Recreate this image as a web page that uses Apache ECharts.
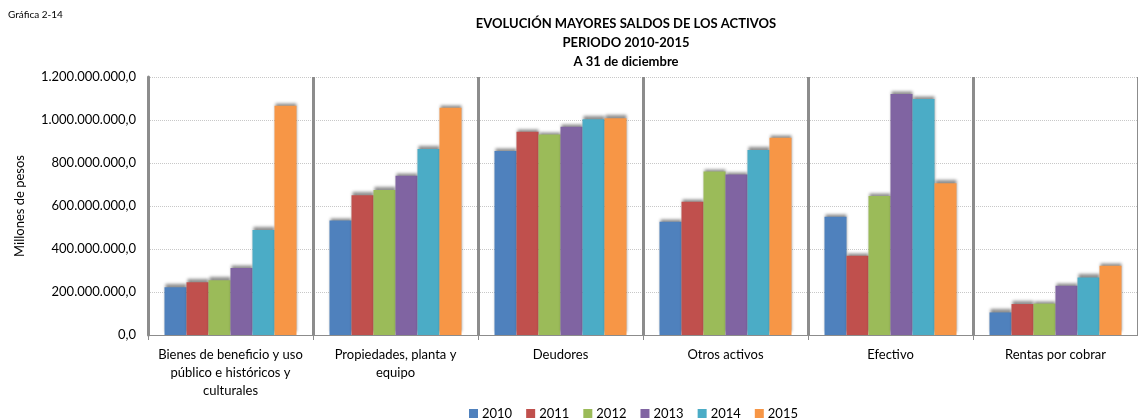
<!DOCTYPE html>
<html><head><meta charset="utf-8">
<script src="https://cdn.jsdelivr.net/npm/echarts@6/dist/echarts.min.js"></script>
<style>html,body{margin:0;padding:0;background:#fff}#c{width:1138px;height:420px}</style>
</head><body><div id="c"></div>
<script>
const categories = [
  'Bienes de beneficio y uso\npúblico e históricos y\nculturales',
  'Propiedades, planta y\nequipo',
  'Deudores',
  'Otros activos',
  'Efectivo',
  'Rentas por cobrar'
];
const years = ['2010','2011','2012','2013','2014','2015'];
const v2010 = [222e6, 532e6, 856e6, 527e6, 550e6, 105e6];
const v2011 = [245e6, 650e6, 945e6, 620e6, 369e6, 144e6];
const v2012 = [255e6, 674e6, 932e6, 760e6, 647e6, 146e6];
const v2013 = [312e6, 741e6, 969e6, 746e6, 1121e6, 229e6];
const v2014 = [488e6, 865e6, 1003e6, 860e6, 1098e6, 268e6];
const v2015 = [1066e6, 1057e6, 1008e6, 918e6, 706e6, 322e6];
const yTicks = [0, 200e6, 400e6, 600e6, 800e6, 1000e6, 1200e6];
const colors = ['#4F81BD','#C0504D','#9BBB59','#8064A2','#4BACC6','#F79646'];
const values = [v2010, v2011, v2012, v2013, v2014, v2015];
const FONT = 'Lato';

function fmt(v){
  const s = Math.round(v).toString().replace(/\B(?=(\d{3})+(?!\d))/g,'.');
  return s + ',0';
}

const chart = echarts.init(document.getElementById('c'));
chart.setOption({
  animation:false,
  color: colors,
  textStyle:{fontFamily:FONT},
  title:{
    text:'EVOLUCIÓN MAYORES SALDOS DE LOS ACTIVOS\nPERIODO 2010-2015\nA 31 de diciembre',
    left:621, top:9, textAlign:'center',
    textStyle:{fontFamily:FONT,fontSize:13,fontWeight:'bold',color:'#000',lineHeight:19}
  },
  graphic:[
    {type:'text', left:8, top:10, style:{text:'Gráfica 2-14', fontFamily:FONT, fontSize:10, fill:'#000'}},
    {type:'text', x:20, y:206, rotation:Math.PI/2, style:{text:'Millones de pesos', fontFamily:FONT, fontSize:13, fill:'#000', textAlign:'center', textVerticalAlign:'middle'}}
  ],
  legend:{
    data:years, left:464, top:402, itemWidth:9, itemHeight:9, itemGap:14,
    icon:'rect',
    textStyle:{fontFamily:FONT,fontSize:13,color:'#000',padding:[0,0,0,-1]}
  },
  grid:{left:148, right:-3, top:77, bottom:85},
  xAxis:{
    type:'category', data:categories, boundaryGap:true,
    axisLine:{show:true,lineStyle:{color:'#8c8c8c',width:1}},
    axisTick:{show:true,interval:0,length:5,lineStyle:{color:'#8c8c8c'}},
    axisLabel:{interval:0,fontFamily:FONT,fontSize:13,color:'#000',lineHeight:18,margin:11},
    splitLine:{show:true,interval:0,lineStyle:{color:'#8c8c8c',width:3}}
  },
  yAxis:{
    type:'value', min:0, max:1200e6, interval:200e6,
    axisLine:{show:true,lineStyle:{color:'#8c8c8c',width:3}},
    axisTick:{show:false},
    axisLabel:{fontFamily:FONT,fontSize:13,color:'#000',margin:12,formatter:fmt},
    splitLine:{show:true,lineStyle:{color:'#c8c8c8',type:'dotted',width:1}}
  },
  series: years.map((y,i)=>({
    name:y, type:'bar', data:values[i], barWidth:22, barGap:'0%',
    itemStyle:{color:colors[i], shadowColor:'rgba(0,0,0,0.45)', shadowBlur:3, shadowOffsetY:-3}
  }))
});
</script></body></html>
